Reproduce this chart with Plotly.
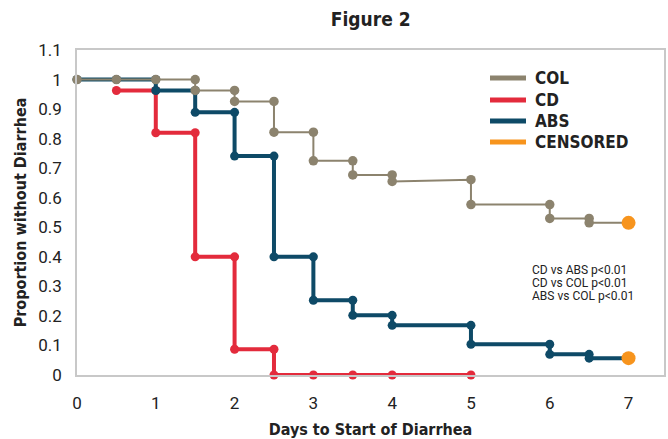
import plotly.graph_objects as go

# Path vertices (step curves)
col_x = [0, 0.5, 1, 1.5, 1.5, 2, 2, 2.5, 2.5, 3, 3, 3.5, 3.5, 4, 4, 5, 5, 6, 6, 6.5, 6.5, 7]
col_y = [1, 1, 1, 1, 0.963, 0.963, 0.926, 0.926, 0.822, 0.822, 0.725, 0.725, 0.677, 0.677, 0.655,
         0.661, 0.577, 0.577, 0.53, 0.53, 0.515, 0.515]

cd_x = [0.5, 1, 1, 1.5, 1.5, 2, 2, 2.5, 2.5, 3, 3.5, 4, 5]
cd_y = [0.963, 0.963, 0.82, 0.82, 0.40, 0.40, 0.087, 0.087, 0, 0, 0, 0, 0]

abs_x = [0, 0.5, 1, 1, 1.5, 1.5, 2, 2, 2.5, 2.5, 3, 3, 3.5, 3.5, 4, 4, 5, 5, 6, 6, 6.5, 6.5, 7]
abs_y = [1, 1, 1, 0.963, 0.963, 0.889, 0.889, 0.741, 0.741, 0.40, 0.40, 0.253, 0.253, 0.202, 0.202,
         0.168, 0.168, 0.104, 0.104, 0.07, 0.07, 0.057, 0.057]

cens_x = [7, 7]
cens_y = [0.515, 0.057]

series_names = ["COL", "CD", "ABS", "CENSORED"]
colors = {"COL": "#8c836e", "CD": "#e32b3c", "ABS": "#0e4a67", "CENSORED": "#f7941d"}

x_ticks = [0, 1, 2, 3, 4, 5, 6, 7]
y_ticks = [0, 0.1, 0.2, 0.3, 0.4, 0.5, 0.6, 0.7, 0.8, 0.9, 1, 1.1]

stats_text = ["CD vs ABS p<0.01", "CD vs COL p<0.01", "ABS vs COL p<0.01"]

cond = "DejaVu Sans Condensed, Roboto, Arial"
tickfont_family = "Roboto, Arial"

# layout geometry (pixels)
W, H = 668, 439
L, R, T, B = 77, 4, 50, 64
PW, PH = W - L - R, H - T - B


def px_x(px):
    return (px - L) / PW


def px_y(py):
    return (H - B - py) / PH


fig = go.Figure()

# actual curves
fig.add_trace(go.Scatter(x=cd_x, y=cd_y, mode="lines+markers", name="CD", showlegend=False,
                         line=dict(color=colors["CD"], width=4),
                         marker=dict(color=colors["CD"], size=9), cliponaxis=False))
fig.add_trace(go.Scatter(x=abs_x, y=abs_y, mode="lines+markers", name="ABS", showlegend=False,
                         line=dict(color=colors["ABS"], width=4),
                         marker=dict(color=colors["ABS"], size=9), cliponaxis=False))
fig.add_trace(go.Scatter(x=col_x, y=col_y, mode="lines+markers", name="COL", showlegend=False,
                         line=dict(color=colors["COL"], width=2),
                         marker=dict(color=colors["COL"], size=9.5), cliponaxis=False))
fig.add_trace(go.Scatter(x=cens_x, y=cens_y, mode="markers", name="CENSORED", showlegend=False,
                         marker=dict(color=colors["CENSORED"], size=14), cliponaxis=False))

# manual legend
legend_rows_px = [78, 100, 121, 142]
for name, ry in zip(series_names, legend_rows_px):
    fig.add_shape(type="line", xref="paper", yref="paper",
                  x0=px_x(490), x1=px_x(526), y0=px_y(ry), y1=px_y(ry),
                  line=dict(color=colors[name], width=5))
    fig.add_annotation(x=px_x(533), y=px_y(ry), xref="paper", yref="paper",
                       xanchor="left", yanchor="middle", showarrow=False,
                       text="<b>%s</b>" % name,
                       font=dict(size=17, color="#222", family=cond))

# statistics text
for txt, ry in zip(stats_text, [270, 283, 296]):
    fig.add_annotation(x=px_x(530), y=px_y(ry), xref="paper", yref="paper",
                       xanchor="left", yanchor="middle", text=txt, showarrow=False,
                       font=dict(size=12, color="#222", family=tickfont_family))

fig.update_layout(
    width=W, height=H,
    margin=dict(l=L, r=R, t=T, b=B),
    paper_bgcolor="white", plot_bgcolor="white",
    showlegend=False,
    title=dict(text="<b>Figure 2</b>", x=0.555, xanchor="center", y=0.955, yanchor="middle",
               font=dict(size=19, color="#222", family=cond)),
    font=dict(family=cond, color="#222"),
    xaxis=dict(range=[0, 7.45], tickvals=x_ticks, showgrid=False, zeroline=False,
               showline=True, mirror=True, linecolor="#c8c8c8", linewidth=1.5,
               ticks="", ticklabelstandoff=12, automargin=False,
               tickfont=dict(size=17, color="#222", family=tickfont_family),
               title=dict(text="<b>Days to Start of Diarrhea</b>", standoff=12,
                          font=dict(size=16, color="#222", family=cond))),
    yaxis=dict(range=[0, 1.1], tickvals=y_ticks, showgrid=False, zeroline=False,
               showline=True, mirror=True, linecolor="#c8c8c8", linewidth=1.5,
               ticks="", ticklabelstandoff=10, automargin=False,
               tickfont=dict(size=17, color="#222", family=tickfont_family),
               title=dict(text="<b>Proportion without Diarrhea</b>", standoff=8,
                          font=dict(size=16, color="#222", family=cond))),
)

fig.write_html("out.html", config={"displayModeBar": False},
               post_script="document.body.style.margin='0px';")
